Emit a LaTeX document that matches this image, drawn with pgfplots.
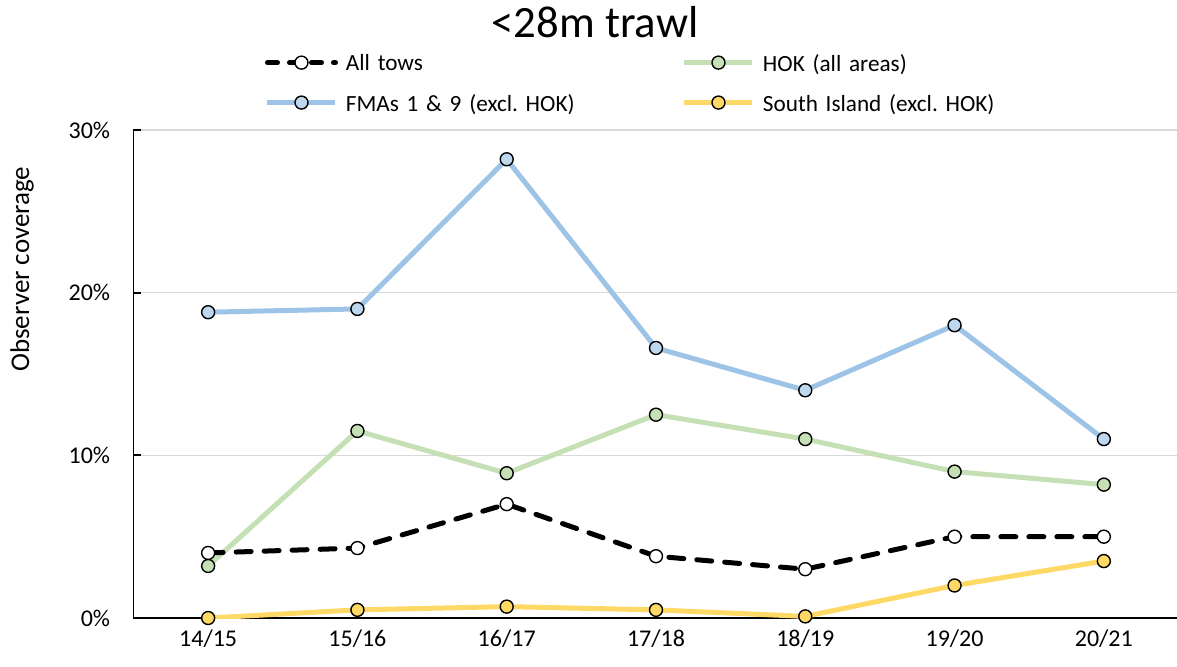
\documentclass[border=0pt]{standalone}
\usepackage{fontspec}
\setmainfont{Carlito}
\usepackage{pgfplots}
\pgfplotsset{compat=1.18}
\definecolor{cblue}{HTML}{9DC3E6}
\definecolor{cbluef}{HTML}{BDD7EE}
\definecolor{cgreen}{HTML}{C5E0B4}
\definecolor{cyellow}{HTML}{FFD966}
\definecolor{cgrid}{HTML}{D9D9D9}
\frenchspacing
\begin{document}
\begin{tikzpicture}
\path[use as bounding box] (-66.75pt,-24pt) rectangle (521.75pt,309pt);
\begin{axis}[
  scale only axis,
  width=522.5pt, height=244pt,
  xmin=-0.5, xmax=6.5,
  ymin=0, ymax=30,
  xtick={0,...,6},
  xticklabels={14/15,15/16,16/17,17/18,18/19,19/20,20/21},
  ytick={0,10,20,30},
  yticklabel={\pgfmathprintnumber{\tick}\%},
  /pgf/number format/assume math mode=true,
  axis x line*=bottom, axis y line*=left,
  axis line style={black, line width=0.9pt},
  x axis line style={line width=0.6pt,-},
  y axis line style={-},
  ymajorgrids, grid style={cgrid, line width=0.6pt},
  xtick style={draw=none},
  ytick style={black, line width=0.9pt},
  tick align=inside, major tick length=4pt,
  tick label style={font=\fontsize{12}{14}\selectfont, inner sep=0pt},
  yticklabel style={xshift=-11.5pt},
  xticklabel style={yshift=-5.5pt},
  ylabel={Observer coverage},
  ylabel style={font=\fontsize{13.5}{16}\selectfont, at={(axis description cs:-0.1067,0.715)}, anchor=center},
  every axis title shift=0pt,
  title={<28m trawl},
  title style={font=\fontsize{22.4}{26}\selectfont, at={(axis description cs:0.4415,1.221)}, anchor=center},
  legend columns=2,
  legend style={draw=none, fill=none, at={(axis description cs:0.1197,1.1645)}, anchor=north west,
    font=\fontsize{11.6}{14}\selectfont, row sep=11.5pt,
    nodes={text width=168pt, align=left, inner sep=0pt, text depth=0pt},
    /tikz/every even column/.append style={column sep=0pt}},
  legend cell align=left,
  legend image code/.code={\draw[#1, mark repeat=2, mark phase=2] plot coordinates {(0pt,0pt) (17pt,0pt) (34pt,0pt)};},
  legend style={/tikz/every odd column/.append style={column sep=4pt}},
  every axis plot/.append style={line width=2.5pt, mark=*, mark size=3.25pt, line join=round},
]
\addlegendimage{black, dash pattern=on 5pt off 6pt, line cap=round, mark options={solid, fill=white, draw=black, line width=0.7pt}}
\addlegendentry{All tows}
\addlegendimage{cgreen, mark options={fill=cgreen, draw=black, line width=0.7pt}}
\addlegendentry{HOK (all areas)}
\addlegendimage{cblue, mark options={fill=cbluef, draw=black, line width=0.7pt}}
\addlegendentry{FMAs 1 \& 9 (excl. HOK)}
\addlegendimage{cyellow, mark options={fill=cyellow, draw=black, line width=0.7pt}}
\addlegendentry{South Island (excl. HOK)}

\addplot[cblue, mark options={fill=cbluef, draw=black, line width=0.7pt}, forget plot] coordinates {(0,18.8) (1,19.0) (2,28.2) (3,16.6) (4,14.0) (5,18.0) (6,11.0)};
\addplot[cgreen, mark options={fill=cgreen, draw=black, line width=0.7pt}, forget plot] coordinates {(0,3.2) (1,11.5) (2,8.9) (3,12.5) (4,11.0) (5,9.0) (6,8.2)};
\addplot[cyellow, mark options={fill=cyellow, draw=black, line width=0.7pt}, forget plot] coordinates {(0,0.0) (1,0.5) (2,0.7) (3,0.5) (4,0.1) (5,2.0) (6,3.5)};
\addplot[black, dash pattern=on 7.5pt off 6.5pt, line cap=round, mark options={solid, fill=white, draw=black, line width=0.7pt}, forget plot] coordinates {(0,4.0) (1,4.3) (2,7.0) (3,3.8) (4,3.0) (5,5.0) (6,5.0)};
\end{axis}
\end{tikzpicture}
\end{document}
